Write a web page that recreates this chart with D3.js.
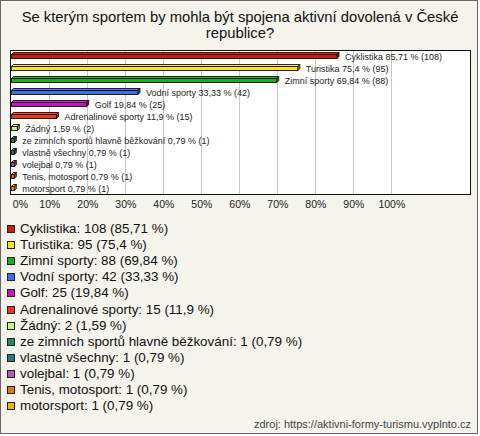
<!DOCTYPE html>
<html><head><meta charset="utf-8">
<script src="https://cdn.jsdelivr.net/npm/d3@7"></script>
<style>
html,body{margin:0;padding:0;background:#fff;}
svg{display:block;font-family:"Liberation Sans",Arial,sans-serif;}
</style></head>
<body>
<svg id="chart" width="480" height="436"></svg>
<script>
const titleLines = ["Se kterým sportem by mohla být spojena aktivní dovolená v České", "republice?"];
const categories = ["Cyklistika","Turistika","Zimní sporty","Vodní sporty","Golf","Adrenalinové sporty","Žádný","ze zimních sportů hlavně běžkování","vlastně všechny","volejbal","Tenis, motosport","motorsport"];
const counts = [108,95,88,42,25,15,2,1,1,1,1,1];
const percents = [85.71,75.4,69.84,33.33,19.84,11.9,1.59,0.79,0.79,0.79,0.79,0.79];
const colors = ["#c41e0c","#ffe800","#1eae1e","#3f6fe4","#c212cc","#e23c12","#c4f48a","#12915e","#1f7a8a","#b65ac2","#e47814","#e8b412"];
const ticks = [0,10,20,30,40,50,60,70,80,90,100];
const source = "zdroj: https://aktivni-formy-turismu.vyplnto.cz";

const fmt = v => String(v).replace(".", ",");
const svg = d3.select("#chart");

svg.append("rect").attr("x",0.5).attr("y",0.5).attr("width",477).attr("height",433)
  .attr("fill","#f4f3ec").attr("stroke","#666");

svg.selectAll("text.title").data(titleLines).join("text")
  .attr("class","title").attr("x",240).attr("y",(d,i)=>22+i*16)
  .attr("text-anchor","middle").attr("font-size",14.8).attr("fill","#111").text(d=>d);

const plot = {left:10.5, top:50.5, right:470.5, bottom:194.5};
svg.append("rect").attr("x",plot.left).attr("y",plot.top)
  .attr("width",plot.right-plot.left).attr("height",plot.bottom-plot.top)
  .attr("fill","#fff").attr("stroke","#111");

const x = d3.scaleLinear().domain([0,100]).range([11.3,391.3]);
const y = d3.scaleBand().domain(categories).range([50,194]);

svg.selectAll("line.grid").data(ticks.filter(t=>t>0)).join("line")
  .attr("class","grid").attr("x1",d=>Math.round(x(d))+0.5).attr("x2",d=>Math.round(x(d))+0.5)
  .attr("y1",plot.top+0.5).attr("y2",plot.bottom-0.5).attr("stroke","#c8c8c8");

const axis = d3.axisBottom(x).tickValues(ticks).tickSize(0).tickPadding(0).tickFormat(d=>d+"%");
const ax = svg.append("g").attr("transform","translate(0,201)").call(axis);
ax.select(".domain").remove();
ax.selectAll("text").attr("font-size",10.5).attr("fill","#222")
  .attr("font-family","'Liberation Sans',Arial,sans-serif")
  .attr("text-anchor",d=>d===0?"start":"middle").attr("dx",d=>d===0?1:0);

const data = categories.map((c,i)=>({c,n:counts[i],p:percents[i],col:colors[i]}));
const dpt = 2, bh = 4;
const g = svg.append("g");
data.forEach(d=>{
  const x0 = x(0), x1 = x(d.p);
  const yt = Math.round(y(d.c) + y.bandwidth()/2 - bh/2) + 0.5;
  const c = d3.color(d.col);
  const row = g.append("g");
  row.append("path").attr("d",`M${x0},${yt}L${x0+dpt},${yt-dpt}L${x1+dpt},${yt-dpt}L${x1},${yt}Z`)
    .attr("fill",c.brighter(0.4)).attr("stroke","#1a0a00").attr("stroke-width",0.9);
  row.append("path").attr("d",`M${x1},${yt}L${x1+dpt},${yt-dpt}L${x1+dpt},${yt+bh-dpt}L${x1},${yt+bh}Z`)
    .attr("fill",c.darker(0.8)).attr("stroke","#1a0a00").attr("stroke-width",0.9);
  row.append("rect").attr("x",x0).attr("y",yt).attr("width",x1-x0).attr("height",bh)
    .attr("fill",d.col).attr("stroke","#1a0a00").attr("stroke-width",0.9);
  row.append("text").attr("x",x1+dpt+6).attr("y",yt+bh/2+3)
    .attr("font-size",9).attr("fill","#222")
    .text(`${d.c} ${fmt(d.p)} % (${d.n})`);
});

const leg = svg.append("g");
data.forEach((d,i)=>{
  const cy = 228.5 + i*16.1;
  leg.append("rect").attr("x",7.5).attr("y",Math.round(cy-3.5)+0.5).attr("width",7).attr("height",7)
    .attr("fill",d.col).attr("stroke","#222");
  leg.append("text").attr("x",20).attr("y",cy+4.5).attr("font-size",13.4).attr("fill","#111")
    .text(`${d.c}: ${d.n} (${fmt(d.p)} %)`);
});

svg.append("text").attr("x",471).attr("y",428).attr("text-anchor","end")
  .attr("font-size",11).attr("fill","#444").text(source);
</script>
</body></html>
